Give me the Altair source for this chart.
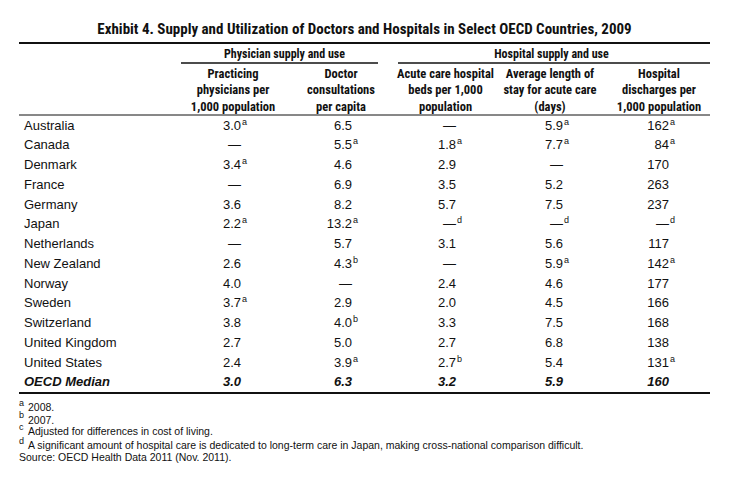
import altair as alt
import pandas as pd

title_text = "Exhibit 4. Supply and Utilization of Doctors and Hospitals in Select OECD Countries, 2009"
group_headers = ["Physician supply and use", "Hospital supply and use"]
col_headers = [
    "Practicing\nphysicians per\n1,000 population",
    "Doctor\nconsultations\nper capita",
    "Acute care hospital\nbeds per 1,000\npopulation",
    "Average length of\nstay for acute care\n(days)",
    "Hospital\ndischarges per\n1,000 population",
]

countries = ["Australia", "Canada", "Denmark", "France", "Germany", "Japan", "Netherlands",
             "New Zealand", "Norway", "Sweden", "Switzerland", "United Kingdom",
             "United States", "OECD Median"]

physicians = ["3.0", "—", "3.4", "—", "3.6", "2.2", "—", "2.6", "4.0", "3.7", "3.8", "2.7", "2.4", "3.0"]
physicians_note = ["a", "", "a", "", "", "a", "", "", "", "a", "", "", "", ""]
consult = ["6.5", "5.5", "4.6", "6.9", "8.2", "13.2", "5.7", "4.3", "—", "2.9", "4.0", "5.0", "3.9", "6.3"]
consult_note = ["", "a", "", "", "", "a", "", "b", "", "", "b", "", "a", ""]
beds = ["—", "1.8", "2.9", "3.5", "5.7", "—", "3.1", "—", "2.4", "2.0", "3.3", "2.7", "2.7", "3.2"]
beds_note = ["", "a", "", "", "", "d", "", "", "", "", "", "", "b", ""]
stay = ["5.9", "7.7", "—", "5.2", "7.5", "—", "5.6", "5.9", "4.6", "4.5", "7.5", "6.8", "5.4", "5.9"]
stay_note = ["a", "a", "", "", "", "d", "", "a", "", "", "", "", "", ""]
discharges = ["162", "84", "170", "263", "237", "—", "117", "142", "177", "166", "168", "138", "131", "160"]
discharges_note = ["a", "a", "", "", "", "d", "", "a", "", "", "", "", "a", ""]

footnote_marks = ["a", "b", "c", "d"]
footnotes = ["2008.", "2007.", "Adjusted for differences in cost of living.",
             "A significant amount of hospital care is dedicated to long-term care in Japan, making cross-national comparison difficult."]
source_text = "Source: OECD Health Data 2011 (Nov. 2011)."

# ---------- build tables ----------
values = [physicians, consult, beds, stay, discharges]
notes = [physicians_note, consult_note, beds_note, stay_note, discharges_note]
n = len(countries)
recs = []
for ci, (vals, nts) in enumerate(zip(values, notes)):
    for ri in range(n):
        recs.append({"col": ci, "row": ri, "val": vals[ri], "note": nts[ri], "median": ri == n - 1})
cells = pd.DataFrame(recs)
names = pd.DataFrame({"row": list(range(n)), "name": countries, "median": [i == n - 1 for i in range(n)]})
one = pd.DataFrame({"k": [0]})

BODY = "Liberation Sans, Arial, sans-serif"
HEAD = "Roboto Condensed, Open Sans Condensed, sans-serif"
INK = "#111111"

xs = alt.Scale(domain=[0, 1, 2, 3, 4], range=[233, 344, 448, 555, 661])
ys = alt.Scale(domain=[0, n - 1], range=[117.7, 374.3])
X = alt.X("col:Q", scale=xs, axis=None)
Y = alt.Y("row:Q", scale=ys, axis=None)

layers = []

# title
layers.append(alt.Chart(one).mark_text(font=HEAD, fontSize=15, fontWeight="bold", color=INK,
                                       align="center", baseline="middle")
              .encode(x=alt.value(356.5), y=alt.value(20.5), text=alt.value(title_text)))

# rules
def rule(x1, x2, y, w):
    return alt.Chart(one).mark_rule(color=INK, strokeWidth=w).encode(
        x=alt.value(x1), x2=alt.value(x2), y=alt.value(y))

layers += [rule(11, 702, 35, 2), rule(173, 370, 55, 1.5), rule(390, 702, 55, 1.5),
           rule(11, 702, 107, 1), rule(11, 702, 385, 2)]

# group headers
for gx, gt in zip([276.5, 543.5], group_headers):
    layers.append(alt.Chart(one).mark_text(font=HEAD, fontSize=12, fontWeight="bold", color=INK,
                                           align="center", baseline="middle")
                  .encode(x=alt.value(gx), y=alt.value(46), text=alt.value(gt)))

# column headers
for hx, ht in zip([225, 333, 437.5, 542, 651], col_headers):
    layers.append(alt.Chart(one).mark_text(font=HEAD, fontSize=12.5, fontWeight="bold", color=INK,
                                           align="center", baseline="middle", lineBreak="\n",
                                           lineHeight=16.5)
                  .encode(x=alt.value(hx), y=alt.value(65.5), text=alt.value(ht)))

# country names
layers.append(alt.Chart(names).transform_filter("!datum.median")
              .mark_text(font=BODY, fontSize=13, color=INK, align="left", baseline="middle")
              .encode(x=alt.value(16), y=Y, text="name:N"))
layers.append(alt.Chart(names).transform_filter("datum.median")
              .mark_text(font=BODY, fontSize=13, color=INK, align="left", baseline="middle",
                         fontWeight="bold", fontStyle="italic")
              .encode(x=alt.value(16), y=Y, text="name:N"))

# cell values
layers.append(alt.Chart(cells).transform_filter("!datum.median")
              .mark_text(font=BODY, fontSize=13, color=INK, align="right", baseline="middle")
              .encode(x=X, y=Y, text="val:N"))
layers.append(alt.Chart(cells).transform_filter("datum.median")
              .mark_text(font=BODY, fontSize=13, color=INK, align="right", baseline="middle",
                         fontWeight="bold", fontStyle="italic")
              .encode(x=X, y=Y, text="val:N"))
# superscripts
layers.append(alt.Chart(cells).transform_filter("datum.note != ''")
              .mark_text(font=BODY, fontSize=9, color=INK, align="left", baseline="middle",
                         dx=1, dy=-4)
              .encode(x=X, y=Y, text="note:N"))

# footnotes
for fy, fm, ft in zip([400, 412.5, 424, 438], footnote_marks, footnotes):
    layers.append(alt.Chart(one).mark_text(font=BODY, fontSize=9, color=INK, align="left",
                                           baseline="middle")
                  .encode(x=alt.value(11), y=alt.value(fy - 5.5), text=alt.value(fm)))
    layers.append(alt.Chart(one).mark_text(font=BODY, fontSize=10.5, color=INK, align="left",
                                           baseline="middle")
                  .encode(x=alt.value(20), y=alt.value(fy), text=alt.value(ft)))
layers.append(alt.Chart(one).mark_text(font=BODY, fontSize=10.5, color=INK, align="left",
                                       baseline="middle")
              .encode(x=alt.value(11), y=alt.value(450), text=alt.value(source_text)))

chart = (alt.layer(*layers)
         .properties(width=732, height=481, padding=0, autosize="none", background="white")
         .configure_view(stroke=None))

chart.save("out.html", embed_options={"renderer": "svg", "actions": False})
